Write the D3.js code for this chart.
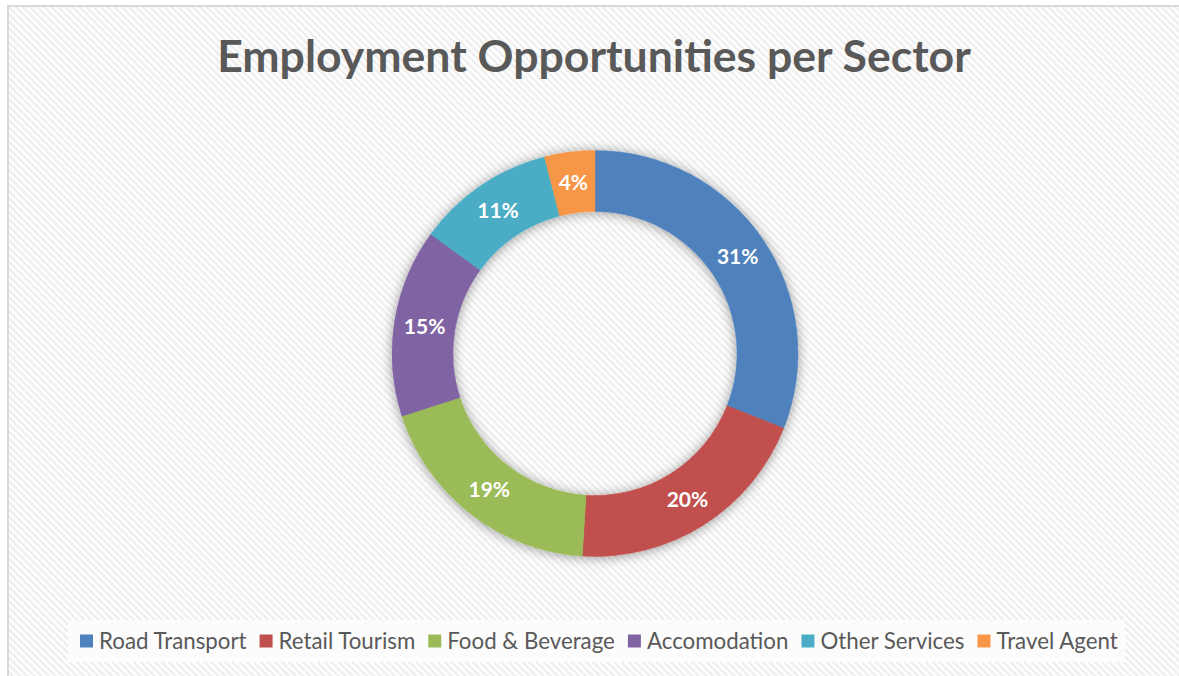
<!DOCTYPE html>
<html>
<head>
<meta charset="utf-8">
<script src="https://cdn.jsdelivr.net/npm/d3@7"></script>
<style>
  html, body { margin: 0; padding: 0; background: #ffffff; }
  svg { display: block; }
</style>
</head>
<body>
<svg id="chart" width="1179" height="676"></svg>
<script>
// Sector shares of employment opportunities (percent)
const categories = ["Road Transport", "Retail Tourism", "Food & Beverage", "Accomodation", "Other Services", "Travel Agent"];
const values = [31, 20, 19, 15, 11, 4];
const colors = ["#4f81bd", "#c0504d", "#9bbb59", "#8064a2", "#4bacc6", "#f79646"];
const titleText = "Employment Opportunities per Sector";

const W = 1179, H = 676;
const FONT = "Lato, 'Open Sans', 'DejaVu Sans', sans-serif";
const svg = d3.select("#chart");
const defs = svg.append("defs");

// diagonal hatch fill for the chart area
const pat = defs.append("pattern")
  .attr("id", "hatch")
  .attr("patternUnits", "userSpaceOnUse")
  .attr("width", 5).attr("height", 5)
  .attr("patternTransform", "rotate(-45)");
pat.append("rect").attr("width", 5).attr("height", 5).attr("fill", "#ffffff");
pat.append("rect").attr("width", 2.5).attr("height", 5).attr("fill", "#eeeeee");

// soft shadow around the ring
const flt = defs.append("filter").attr("id", "ringShadow")
  .attr("x", "-20%").attr("y", "-20%").attr("width", "140%").attr("height", "140%");
flt.append("feGaussianBlur").attr("in", "SourceAlpha").attr("stdDeviation", 6).attr("result", "b");
flt.append("feOffset").attr("in", "b").attr("dx", 0).attr("dy", 1).attr("result", "o");
flt.append("feComponentTransfer").attr("in", "o").attr("result", "s")
  .append("feFuncA").attr("type", "linear").attr("slope", 0.4);
const fm = flt.append("feMerge");
fm.append("feMergeNode").attr("in", "s");
fm.append("feMergeNode").attr("in", "SourceGraphic");

// chart frame
svg.append("rect")
  .attr("x", 8).attr("y", 6)
  .attr("width", W + 40).attr("height", H + 40)
  .attr("fill", "url(#hatch)")
  .attr("stroke", "#d9d9d9").attr("stroke-width", 2);

// title, sized to its span
const title = svg.append("text")
  .attr("x", 594).attr("y", 72)
  .attr("text-anchor", "middle")
  .attr("font-family", FONT)
  .attr("font-weight", "bold")
  .attr("font-size", 46)
  .attr("fill", "#595959")
  .text(titleText);
const tw = title.node().getComputedTextLength();
title.attr("font-size", 46 * 754 / tw);

// donut
const cx = 595, cy = 353.5, rOuter = 203, rInner = 142;
const pie = d3.pie().sort(null).value(d => d);
const arcs = pie(values);
const arc = d3.arc().innerRadius(rInner).outerRadius(rOuter);
const labelArc = d3.arc().innerRadius((rInner + rOuter) / 2).outerRadius((rInner + rOuter) / 2);

const g = svg.append("g").attr("transform", `translate(${cx},${cy})`);
g.append("g").attr("filter", "url(#ringShadow)")
  .selectAll("path").data(arcs).join("path")
  .attr("d", arc)
  .attr("fill", (d, i) => colors[i])
  .attr("stroke", (d, i) => colors[i])
  .attr("stroke-width", 0.5);

g.selectAll("text.lbl").data(arcs).join("text")
  .attr("class", "lbl")
  .attr("transform", d => `translate(${labelArc.centroid(d)})`)
  .attr("text-anchor", "middle")
  .attr("dy", "0.36em")
  .attr("font-family", FONT)
  .attr("font-weight", "bold")
  .attr("font-size", 21)
  .attr("fill", "#ffffff")
  .text(d => d.data + "%");

// legend
svg.append("rect")
  .attr("x", 68).attr("y", 620).attr("width", 1057).attr("height", 42)
  .attr("fill", "#fcfcfc");
const leg = svg.append("g");
const sw = 13, gapSwatch = 6, gapItem = 13;
const items = leg.selectAll("g").data(categories).join("g");
items.append("rect").attr("width", sw).attr("height", sw)
  .attr("fill", (d, i) => colors[i]);
const ltexts = items.append("text")
  .attr("font-family", FONT)
  .attr("font-size", 20)
  .attr("fill", "#595959")
  .text(d => d);
// fit legend to its span
let sumText = 0;
ltexts.each(function () { sumText += this.getComputedTextLength(); });
const targetSpan = 1038;
const fixed = categories.length * (sw + gapSwatch) + (categories.length - 1) * gapItem;
const lfs = 20 * (targetSpan - fixed) / sumText;
ltexts.attr("font-size", lfs);
let x = 80;
const ly = 641.5;
items.each(function (d, i) {
  const it = d3.select(this);
  it.select("rect").attr("x", x).attr("y", ly - sw / 2 - 0.5);
  const t = it.select("text").attr("x", x + sw + gapSwatch).attr("y", ly).attr("dy", "0.35em");
  x += sw + gapSwatch + t.node().getComputedTextLength() + gapItem;
});
</script>
</body>
</html>
